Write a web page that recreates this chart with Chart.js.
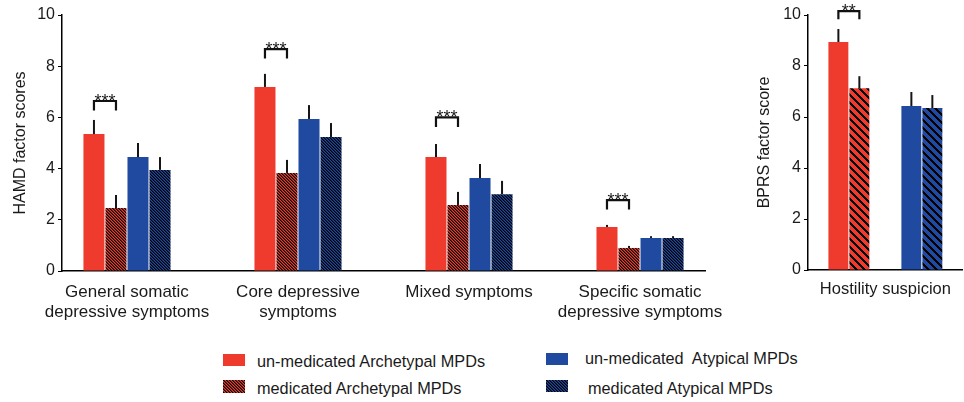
<!DOCTYPE html>
<html>
<head>
<meta charset="utf-8">
<script src="https://cdn.jsdelivr.net/npm/chart.js@4.4.1/dist/chart.umd.min.js"></script>
<style>
  html, body { margin: 0; padding: 0; background: #fff; }
  body { width: 964px; height: 402px; position: relative; overflow: hidden;
         font-family: "Liberation Sans", Arial, Helvetica, sans-serif; color: #1a1a1a; }
  #hamd { position: absolute; left: 0; top: 0; }
  #bprs { position: absolute; left: 730px; top: 0; }
  .lg-text { position: absolute; font-size: 16.3px; line-height: 16px; white-space: pre; color: #1a1a1a; }
  .lg-box { position: absolute; width: 22px; height: 12px; }
</style>
</head>
<body>
<canvas id="hamd" width="724" height="340"></canvas>
<canvas id="bprs" width="234" height="340"></canvas>

<canvas class="lg-box" id="sw0" width="22" height="12" style="left:223px;top:354px"></canvas>
<div class="lg-text" id="lt0" style="left:257px;top:352.5px"></div>
<canvas class="lg-box" id="sw1" width="22" height="13" style="left:223px;top:380px;height:13px"></canvas>
<div class="lg-text" id="lt1" style="left:257px;top:379.5px"></div>
<canvas class="lg-box" id="sw2" width="22" height="12" style="left:546px;top:353px"></canvas>
<div class="lg-text" id="lt2" style="left:585px;top:350px"></div>
<canvas class="lg-box" id="sw3" width="22" height="12" style="left:546px;top:380px"></canvas>
<div class="lg-text" id="lt3" style="left:588px;top:379.5px"></div>

<script>
// ---- HAMD factor scores (left panel) ----
const hamdCategories = [
  ['General somatic', 'depressive symptoms'],
  ['Core depressive', 'symptoms'],
  ['Mixed symptoms'],
  ['Specific somatic', 'depressive symptoms']
];
const seriesNames = [
  'un-medicated Archetypal MPDs',
  'medicated Archetypal MPDs',
  'un-medicated  Atypical MPDs',
  'medicated Atypical MPDs'
];
const hamdUnmedArch    = [5.35, 7.19, 4.45, 1.72];
const hamdUnmedArchErr = [0.55, 0.51, 0.51, 0.08];
const hamdMedArch      = [2.46, 3.83, 2.58, 0.90];
const hamdMedArchErr   = [0.51, 0.51, 0.51, 0.08];
const hamdUnmedAtyp    = [4.45, 5.94, 3.63, 1.29];
const hamdUnmedAtypErr = [0.55, 0.54, 0.55, 0.07];
const hamdMedAtyp      = [3.95, 5.23, 3.00, 1.29];
const hamdMedAtypErr   = [0.50, 0.55, 0.52, 0.07];
// significance brackets between the two Archetypal groups
const hamdSigIndex = [0, 1, 2, 3];
const hamdSigText  = ['***', '***', '***', '***'];
const hamdSigLevel = [6.64, 8.67, 6.00, 2.77];

// ---- BPRS factor score (right panel) ----
const bprsCategory = ['Hostility suspicion'];
const bprsGroups   = ['Archetypal', 'Atypical'];
const bprsUnmedArch    = [8.94, null];
const bprsUnmedArchErr = [0.51, null];
const bprsMedArch      = [7.13, null];
const bprsMedArchErr   = [0.47, null];
const bprsUnmedAtyp    = [null, 6.43];
const bprsUnmedAtypErr = [null, 0.55];
const bprsMedAtyp      = [null, 6.35];
const bprsMedAtypErr   = [null, 0.51];
const bprsSigIndex = [0];
const bprsSigText  = ['**'];
const bprsSigLevel = [10.15];

const yTicks = [0, 2, 4, 6, 8, 10];

// ---- styling ----
const RED = '#EE3B2E';
const BLUE = '#1F4AA0';
const FONT = '"Liberation Sans", Arial, Helvetica, sans-serif';
Chart.defaults.font.family = FONT;
Chart.defaults.color = '#1a1a1a';

// crisp diagonal ("\") hatch tile, drawn pixel by pixel
function hatch(base, period, dark, half) {
  const c = document.createElement('canvas');
  c.width = c.height = period;
  const g = c.getContext('2d');
  g.fillStyle = base;
  g.fillRect(0, 0, period, period);
  for (let y = 0; y < period; y++) {
    for (let x = 0; x < period; x++) {
      const k = ((x - y) % period + period) % period;
      if (k < dark) {
        g.fillStyle = '#000';
        g.fillRect(x, y, 1, 1);
      } else if (half && k === dark) {
        g.fillStyle = 'rgba(0,0,0,0.5)';
        g.fillRect(x, y, 1, 1);
      }
    }
  }
  return g.createPattern(c, 'repeat');
}
const redFine = hatch(RED, 3, 1, true), blueFine = hatch(BLUE, 3, 1, true);
const redWide = hatch(RED, 8, 3, false), blueWide = hatch(BLUE, 8, 3, false);

// vertical error whiskers above each bar
const errorBars = {
  id: 'errorBars',
  afterDatasetsDraw(chart) {
    const ctx = chart.ctx, y = chart.scales.y;
    ctx.save();
    ctx.strokeStyle = '#151515';
    ctx.lineWidth = 2;
    chart.data.datasets.forEach((ds, i) => {
      const meta = chart.getDatasetMeta(i);
      meta.data.forEach((bar, j) => {
        const pt = ds.data[j];
        const v = pt && typeof pt === 'object' ? pt.y : pt;
        const e = ds.errors ? ds.errors[j] : null;
        if (v == null || e == null) return;
        ctx.beginPath();
        ctx.moveTo(bar.x, bar.y);
        ctx.lineTo(bar.x, y.getPixelForValue(v + e));
        ctx.stroke();
      });
    });
    ctx.restore();
  }
};

// significance brackets joining dataset 0 and dataset 1
const sigBrackets = {
  id: 'sigBrackets',
  afterDatasetsDraw(chart, args, opts) {
    if (!opts || !opts.index) return;
    const ctx = chart.ctx, y = chart.scales.y;
    const m0 = chart.getDatasetMeta(0), m1 = chart.getDatasetMeta(1);
    ctx.save();
    ctx.strokeStyle = '#111';
    ctx.fillStyle = '#1a1a1a';
    ctx.lineWidth = 2.2;
    ctx.lineJoin = 'miter';
    ctx.font = '18px ' + FONT;
    ctx.textAlign = 'center';
    ctx.textBaseline = 'alphabetic';
    opts.index.forEach((idx, k) => {
      const x1 = m0.data[idx].x, x2 = m1.data[idx].x;
      const top = y.getPixelForValue(opts.level[k]);
      const leg = top + opts.drop;
      ctx.beginPath();
      ctx.moveTo(x1, leg); ctx.lineTo(x1, top); ctx.lineTo(x2, top); ctx.lineTo(x2, leg);
      ctx.stroke();
      ctx.fillText(opts.text[k], (x1 + x2) / 2, top + 6);
    });
    ctx.restore();
  }
};

function yScale(width, titleText, titlePad) {
  return {
    min: 0, max: 10,
    afterBuildTicks: s => { s.ticks = yTicks.map(v => ({ value: v })); },
    afterFit: s => { s.width = width; },
    ticks: { font: { size: 16 }, padding: 3, color: '#1a1a1a' },
    grid: { drawOnChartArea: false, drawTicks: true, tickLength: 4, color: '#000', lineWidth: 1 },
    border: { display: true, color: '#000', width: 1.5 },
    title: { display: true, text: titleText, font: { size: 16 }, color: '#1a1a1a',
             padding: { top: titlePad, bottom: 0 } }
  };
}

// category axis: fixed height, labels may overhang the plot edges
function xFit(height) {
  return s => { s.height = height; s.paddingLeft = 0; s.paddingRight = 0; };
}

const common = {
  responsive: false,
  animation: false,
  events: [],
  plugins: { legend: { display: false }, tooltip: { enabled: false } }
};

// left panel
new Chart(document.getElementById('hamd'), {
  type: 'bar',
  data: {
    datasets: [
      { label: seriesNames[0], data: hamdUnmedArch.map((v, i) => ({ x: i, y: v })), errors: hamdUnmedArchErr, backgroundColor: RED },
      { label: seriesNames[1], data: hamdMedArch.map((v, i) => ({ x: i, y: v })), errors: hamdMedArchErr, backgroundColor: redFine },
      { label: seriesNames[2], data: hamdUnmedAtyp.map((v, i) => ({ x: i, y: v })), errors: hamdUnmedAtypErr, backgroundColor: BLUE },
      { label: seriesNames[3], data: hamdMedAtyp.map((v, i) => ({ x: i, y: v })), errors: hamdMedAtypErr, backgroundColor: blueFine }
    ]
  },
  options: {
    ...common,
    layout: { padding: { top: 15, right: 19, left: 0, bottom: 0 } },
    datasets: { bar: { categoryPercentage: 0.515, barPercentage: 0.955 } },
    scales: {
      x: {
        type: 'linear', min: -0.38, max: 3.38, offset: false,
        afterBuildTicks: s => { s.ticks = hamdCategories.map((c, i) => ({ value: i })); },
        afterFit: xFit(340 - 271),
        ticks: { callback: v => hamdCategories[v], autoSkip: false, maxRotation: 0,
                 font: { size: 17, lineHeight: 1.2 }, padding: 11, color: '#1a1a1a' },
        grid: { display: false, drawTicks: false, offset: false },
        border: { display: true, color: '#000', width: 1.5 }
      },
      y: yScale(62, 'HAMD factor scores', 11.4)
    },
    plugins: {
      ...common.plugins,
      sigBrackets: { index: hamdSigIndex, text: hamdSigText, level: hamdSigLevel, drop: 9.5 }
    }
  },
  plugins: [errorBars, sigBrackets]
});

// right panel
const bprsPair = arr => arr.map((v, i) => ({ x: i, y: v }));
new Chart(document.getElementById('bprs'), {
  type: 'bar',
  data: {
    datasets: [
      { label: seriesNames[0], data: bprsPair(bprsUnmedArch), errors: bprsUnmedArchErr, backgroundColor: RED },
      { label: seriesNames[1], data: bprsPair(bprsMedArch), errors: bprsMedArchErr, backgroundColor: redWide },
      { label: seriesNames[2], data: bprsPair(bprsUnmedAtyp), errors: bprsUnmedAtypErr, backgroundColor: BLUE },
      { label: seriesNames[3], data: bprsPair(bprsMedAtyp), errors: bprsMedAtypErr, backgroundColor: blueWide }
    ]
  },
  options: {
    ...common,
    layout: { padding: { top: 15, right: 2, left: 0, bottom: 0 } },
    datasets: { bar: { categoryPercentage: 0.575, barPercentage: 0.95, skipNull: true } },
    scales: {
      x: {
        type: 'linear', min: -0.56, max: 1.55, offset: false,
        afterBuildTicks: s => { s.ticks = [{ value: (bprsGroups.length - 1) / 2 }]; },
        afterFit: xFit(340 - 270),
        ticks: { callback: () => bprsCategory[0], autoSkip: false, maxRotation: 0,
                 font: { size: 16.5, lineHeight: 1.25 }, padding: 9, color: '#1a1a1a' },
        grid: { display: false, drawTicks: false, offset: false },
        border: { display: true, color: '#000', width: 1.5 }
      },
      y: yScale(78, 'BPRS factor score', 25.4)
    },
    plugins: {
      ...common.plugins,
      sigBrackets: { index: bprsSigIndex, text: bprsSigText, level: bprsSigLevel, drop: 8 }
    }
  },
  plugins: [errorBars, sigBrackets]
});

// legend
const swatchFills = [RED, hatch(RED, 3, 1, true), BLUE, hatch(BLUE, 3, 1, true)];
seriesNames.forEach((name, i) => {
  document.getElementById('lt' + i).textContent = name;
  const c = document.getElementById('sw' + i);
  const g = c.getContext('2d');
  g.fillStyle = swatchFills[i];
  g.fillRect(0, 0, c.width, c.height);
});
</script>
</body>
</html>
